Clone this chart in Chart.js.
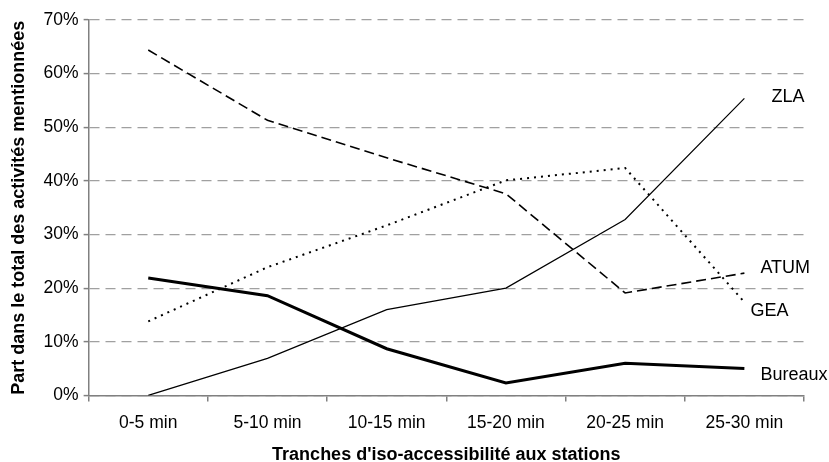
<!DOCTYPE html>
<html>
<head>
<meta charset="utf-8">
<script src="https://cdn.jsdelivr.net/npm/chart.js@4/dist/chart.umd.min.js"></script>
<style>
  html, body { margin: 0; padding: 0; background: #fff; }
  #wrap { width: 829px; height: 462px; }
</style>
</head>
<body>
<div id="wrap"><canvas id="canvas"></canvas></div>
<script>
'use strict';

const categories = ['0-5 min', '5-10 min', '10-15 min', '15-20 min', '20-25 min', '25-30 min'];
const zla = [0, 6.9, 16, 20, 32.8, 55.4];
const atum = [64.4, 51.3, 44.3, 37.6, 19.1, 22.8];
const gea = [13.8, 23.9, 31.7, 40.1, 42.4, 17.4];
const bureaux = [21.9, 18.6, 8.7, 2.3, 6.0, 5.0];
const yTicks = [0, 10, 20, 30, 40, 50, 60, 70];

// where each series name sits relative to its last point
const labelOffsets = {
   ZLA: [27, -1],
   ATUM: [16, -5],
   GEA: [6, 9],
   Bureaux: [16, 6]
};

const FONT = 'Liberation Sans, Arial, sans-serif';

const endLabels = {
   id: 'endLabels',
   afterDatasetsDraw(chart) {
      let c = chart.ctx;
      c.save();
      c.font = '18px ' + FONT;
      c.fillStyle = '#000';
      c.textAlign = 'left';
      c.textBaseline = 'middle';
      chart.data.datasets.forEach((ds, i) => {
         let pts = chart.getDatasetMeta(i).data;
         let last = pts[pts.length - 1];
         let off = labelOffsets[ds.label];
         c.fillText(ds.label, last.x + off[0], last.y + off[1]);
      });
      c.restore();
   }
};

let ctx = document.querySelector('#canvas').getContext('2d');
new Chart(ctx, {
   type: 'line',
   data: {
      labels: categories,
      datasets: [
         {label: 'ZLA', data: zla, borderColor: '#000', borderWidth: 1.2},
         {label: 'ATUM', data: atum, borderColor: '#000', borderWidth: 1.6, borderDash: [10, 5]},
         {label: 'GEA', data: gea, borderColor: '#000', borderWidth: 2, borderDash: [2, 5]},
         {label: 'Bureaux', data: bureaux, borderColor: '#000', borderWidth: 3}
      ]
   },
   options: {
      responsive: true,
      maintainAspectRatio: false,
      animation: false,
      elements: {
         point: {radius: 0},
         line: {tension: 0, fill: false}
      },
      layout: {padding: {top: 20, right: 25, bottom: -4, left: 8}},
      plugins: {
         legend: {display: false},
         tooltip: {enabled: false}
      },
      scales: {
         x: {
            offset: true,
            grid: {
               offset: true,
               drawOnChartArea: false,
               color: '#808080',
               lineWidth: 1.5,
               tickLength: 6
            },
            border: {color: '#808080', width: 1.5},
            ticks: {
               color: '#000',
               font: {family: FONT, size: 17.5},
               padding: 11,
               maxRotation: 0
            },
            title: {
               display: true,
               text: "Tranches d'iso-accessibilité aux stations",
               color: '#000',
               font: {family: FONT, size: 18, weight: 'bold'},
               padding: {top: 0, bottom: 0}
            }
         },
         y: {
            min: 0,
            max: 70,
            afterBuildTicks(axis) {
               axis.ticks = yTicks.map(v => ({value: v}));
            },
            grid: {
               color: '#a0a0a0',
               lineWidth: 1.2,
               tickLength: 5,
               tickColor: '#808080',
               tickWidth: 1.5
            },
            border: {color: '#808080', width: 1.5, dash: [10, 6]},
            ticks: {
               color: '#000',
               font: {family: FONT, size: 17.5},
               padding: 5,
               callback: v => v + '%'
            },
            title: {
               display: true,
               text: 'Part dans le total des activités mentionnées',
               color: '#000',
               font: {family: FONT, size: 18, weight: 'bold'},
               padding: {top: 0, bottom: 9}
            }
         }
      }
   },
   plugins: [endLabels]
});
</script>
</body>
</html>
